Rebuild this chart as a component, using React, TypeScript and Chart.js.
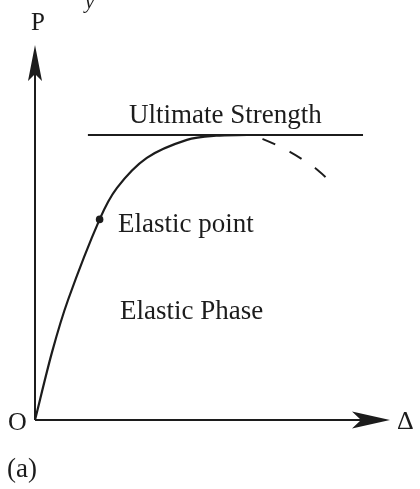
import { useEffect, useRef } from "react";
import { Chart, registerables } from "chart.js";

Chart.register(...registerables);

// Load–deflection curve up to the ultimate strength (solid)
const riseDeflection = [0, 4.8, 9.3, 18.2, 23.1, 31.5, 42.8, 51.0, 59.7];
const riseLoad = [0, 18.1, 32.0, 53.5, 61.9, 69.9, 74.7, 75.8, 76.0];

// Post-peak softening branch (dashed)
const fallDeflection = [59.7, 64.2, 71.8, 78.9, 83.1];
const fallLoad = [76.0, 74.9, 71.5, 67.2, 63.7];

// Ultimate strength level and the span of its reference line
const ultimateLoad = 76.0;
const ultimateSpan = [14.9, 92.4];

// Elastic limit marker
const elasticPointDeflection = [18.2];
const elasticPointLoad = [53.5];

const ultimateLabel = "Ultimate Strength";
const elasticPointLabel = "Elastic point";
const phaseLabel = "Elastic Phase";
const yAxisLabel = "P";
const yAxisSubLabel = "y";
const xAxisLabel = "\u0394";
const originLabel = "O";
const captionLabel = "(a)";

const INK = "#1c1c1c";
const SERIF = '"Liberation Serif", "Times New Roman", "DejaVu Serif", serif';

function arrowHead(
  ctx: CanvasRenderingContext2D,
  tipX: number,
  tipY: number,
  dirX: number,
  dirY: number,
  length: number,
  half: number,
  notch: number
) {
  const nx = -dirY;
  const ny = dirX;
  const bx = tipX - dirX * length;
  const by = tipY - dirY * length;
  ctx.beginPath();
  ctx.moveTo(tipX, tipY);
  ctx.lineTo(bx + nx * half, by + ny * half);
  ctx.lineTo(bx + dirX * notch, by + dirY * notch);
  ctx.lineTo(bx - nx * half, by - ny * half);
  ctx.closePath();
  ctx.fill();
}

const diagramPlugin = {
  id: "diagramDecor",
  beforeDatasetsDraw(chart: any) {
    const { ctx, scales } = chart;
    const xs = scales.x;
    const ys = scales.y;
    const ox = xs.getPixelForValue(0);
    const oy = ys.getPixelForValue(0);
    const xEnd = xs.right;
    const yEnd = ys.top;
    ctx.save();
    ctx.strokeStyle = INK;
    ctx.fillStyle = INK;
    ctx.lineWidth = 2;
    ctx.lineCap = "butt";
    ctx.beginPath();
    ctx.moveTo(ox, oy);
    ctx.lineTo(xEnd - 20, oy);
    ctx.moveTo(ox, oy);
    ctx.lineTo(ox, yEnd + 20);
    ctx.stroke();
    arrowHead(ctx, xEnd, oy, 1, 0, 38, 8.5, 9);
    arrowHead(ctx, ox, yEnd, 0, -1, 36, 7, 7);
    ctx.restore();
  },
  afterDraw(chart: any) {
    const { ctx, scales } = chart;
    const xs = scales.x;
    const ys = scales.y;
    const ox = xs.getPixelForValue(0);
    const oy = ys.getPixelForValue(0);
    ctx.save();
    ctx.fillStyle = INK;
    ctx.textBaseline = "alphabetic";

    // Ultimate strength caption, centred over its line
    ctx.font = `27px ${SERIF}`;
    ctx.textAlign = "center";
    const ux = (xs.getPixelForValue(ultimateSpan[0]) + xs.getPixelForValue(ultimateSpan[1])) / 2;
    const uy = ys.getPixelForValue(ultimateLoad);
    ctx.fillText(ultimateLabel, ux, uy - 12);

    // Elastic point caption beside the marker
    ctx.textAlign = "left";
    const ex = xs.getPixelForValue(elasticPointDeflection[0]);
    const ey = ys.getPixelForValue(elasticPointLoad[0]);
    ctx.fillText(elasticPointLabel, ex + 18.5, ey + 12.5);

    // Region caption
    ctx.fillText(phaseLabel, ox + 85, oy - 101);

    // Axis captions
    ctx.font = `25px ${SERIF}`;
    ctx.fillText(yAxisLabel, ox - 4, 30);
    ctx.font = `italic 21px ${SERIF}`;
    ctx.fillText(yAxisSubLabel, 85, 8);

    ctx.font = `26px ${SERIF}`;
    ctx.textAlign = "center";
    ctx.fillText(originLabel, ox - 17.5, oy + 10);
    ctx.textAlign = "left";
    ctx.fillText(xAxisLabel, xs.right + 7, oy + 9);

    ctx.font = `27px ${SERIF}`;
    ctx.fillText(captionLabel, 7, 477);
    ctx.restore();
  },
};

export default function App() {
  const canvasRef = useRef<HTMLCanvasElement | null>(null);

  useEffect(() => {
    const canvas = canvasRef.current;
    if (!canvas) return;

    const rise = riseDeflection.map((x, i) => ({ x, y: riseLoad[i] }));
    const fall = fallDeflection.map((x, i) => ({ x, y: fallLoad[i] }));
    const ultimate = ultimateSpan.map((x) => ({ x, y: ultimateLoad }));
    const elastic = elasticPointDeflection.map((x, i) => ({ x, y: elasticPointLoad[i] }));

    const chart = new Chart(canvas, {
      type: "line",
      data: {
        datasets: [
          {
            data: ultimate,
            borderColor: INK,
            borderWidth: 2,
            pointRadius: 0,
            tension: 0,
          },
          {
            data: rise,
            borderColor: INK,
            borderWidth: 2.2,
            pointRadius: 0,
            tension: 0.3,
          },
          {
            data: fall,
            borderColor: INK,
            borderWidth: 2,
            borderDash: [14, 16],
            borderDashOffset: 14,
            pointRadius: 0,
            tension: 0.3,
          },
          {
            data: elastic,
            showLine: false,
            pointRadius: 3.8,
            pointBackgroundColor: INK,
            pointBorderColor: INK,
            pointBorderWidth: 0,
          },
        ],
      },
      options: {
        responsive: false,
        animation: false,
        events: [],
        layout: { padding: { left: 35, right: 30, top: 45, bottom: 69 } },
        plugins: {
          legend: { display: false },
          tooltip: { enabled: false },
        },
        scales: {
          x: { type: "linear", min: 0, max: 100, display: false },
          y: { type: "linear", min: 0, max: 100, display: false },
        },
      },
      plugins: [diagramPlugin],
    });

    return () => chart.destroy();
  }, []);

  return (
    <div
      style={{
        position: "fixed",
        left: 0,
        top: 0,
        width: 420,
        height: 489,
        background: "#ffffff",
      }}
    >
      <canvas ref={canvasRef} width={420} height={489} style={{ display: "block" }} />
    </div>
  );
}
